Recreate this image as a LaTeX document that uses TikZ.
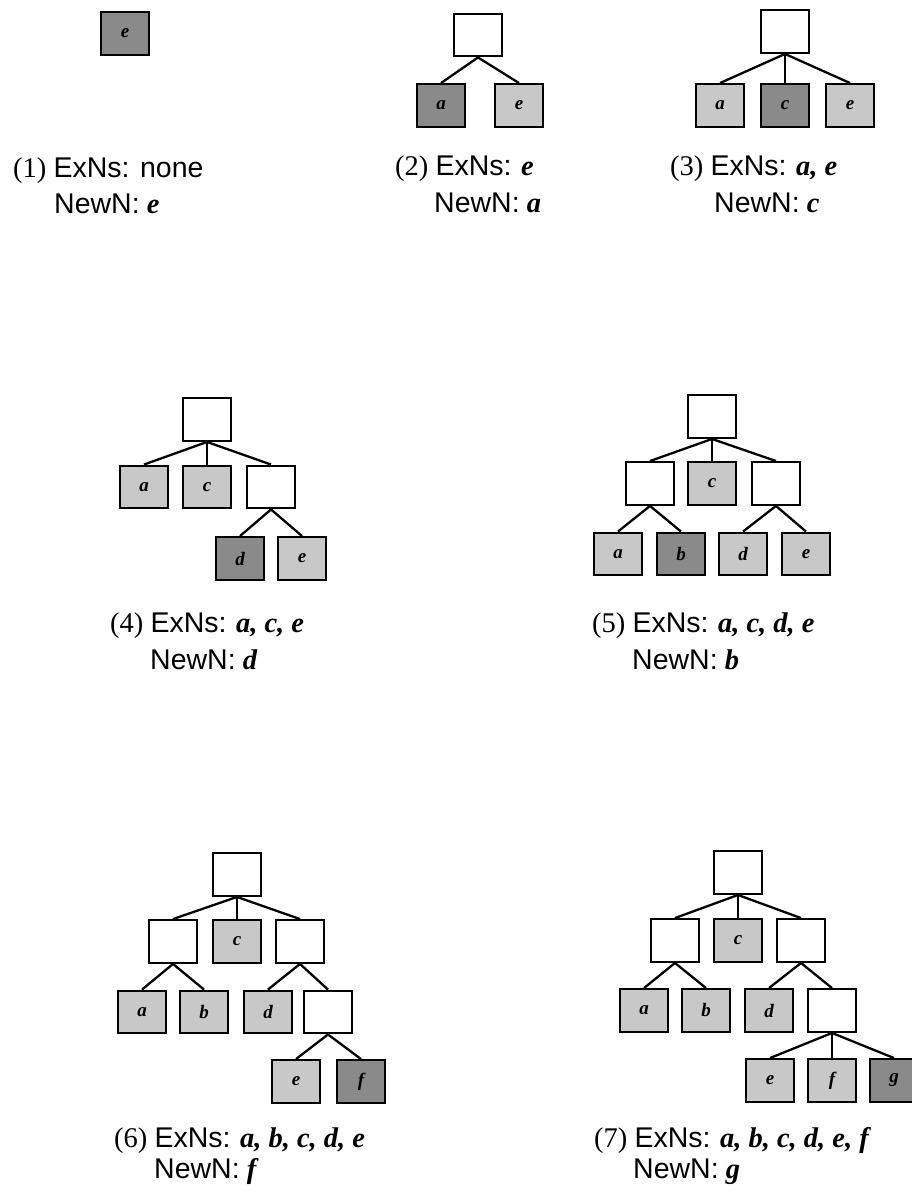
\documentclass[tikz,border=0pt]{standalone}
\usepackage{fontspec}
\setmainfont{Liberation Serif}
\newfontfamily\labelsans{Liberation Sans}
\newcommand{\nv}[1]{\textbf{\textit{#1}}}
\definecolor{oldgray}{RGB}{200,200,200}
\definecolor{newgray}{RGB}{138,138,138}
\begin{document}
\begin{tikzpicture}[x=1pt,y=-1pt,
  tbox/.style={draw, line width=2.4pt, minimum width=47.5pt, minimum height=42.5pt,
    inner sep=0pt, font=\fontsize{19}{19}\selectfont\bfseries\itshape},
  tplain/.style={tbox, fill=white},
  told/.style={tbox, fill=oldgray},
  tnew/.style={tbox, fill=newgray},
  link/.style={line width=2.3pt},
  steptext/.style={anchor=base west, inner sep=0pt, font=\fontsize{28.5}{28.5}\selectfont},
]
\clip (0,0) rectangle (912,1194);

% ---------- (1) ----------
\node[tnew] (p1e) at (125,33.5) {e};
\node[steptext] (c1a) at (13,177) {(1) {\labelsans ExNs: none}};
\node[steptext] (c1b) at (54,213) {{\labelsans NewN:} \nv{e}};

% ---------- (2) ----------
\node[tplain] (p2r) at (478,35) {};
\node[tnew] (p2a) at (441,105.5) {a};
\node[told] (p2e) at (519,105.5) {e};
\draw[link] (p2r.south) -- (p2a.north);
\draw[link] (p2r.south) -- (p2e.north);
\node[steptext] (c2a) at (395,175) {(2) {\labelsans ExNs:} \nv{e}};
\node[steptext] (c2b) at (434,212) {{\labelsans NewN:} \nv{a}};

% ---------- (3) ----------
\node[tplain] (p3r) at (785,31.5) {};
\node[told] (p3a) at (720,105.5) {a};
\node[tnew] (p3c) at (785,105.5) {c};
\node[told] (p3e) at (850,105.5) {e};
\foreach \k in {a,c,e} \draw[link] (p3r.south) -- (p3\k.north);
\node[steptext] (c3a) at (670,175) {(3) {\labelsans ExNs:} \nv{a, e}};
\node[steptext] (c3b) at (714,212) {{\labelsans NewN:} \nv{c}};

% ---------- (4) ----------
\node[tplain] (p4r) at (207,419.5) {};
\node[told] (p4a) at (144,487) {a};
\node[told] (p4c) at (207,487) {c};
\node[tplain] (p4i) at (271,487) {};
\node[tnew] (p4d) at (240,558.5) {d};
\node[told] (p4e) at (302,558.5) {e};
\foreach \k in {a,c,i} \draw[link] (p4r.south) -- (p4\k.north);
\foreach \k in {d,e} \draw[link] (p4i.south) -- (p4\k.north);
\node[steptext] (c4a) at (110,632) {(4) {\labelsans ExNs:} \nv{a, c, e}};
\node[steptext] (c4b) at (150,669) {{\labelsans NewN:} \nv{d}};

% ---------- (5) ----------
\node[tplain] (p5r) at (712,416.5) {};
\node[tplain] (p5l) at (650,483.5) {};
\node[told] (p5c) at (712,483.5) {c};
\node[tplain] (p5m) at (776,483.5) {};
\node[told] (p5a) at (618,554) {a};
\node[tnew] (p5b) at (681,554) {b};
\node[told] (p5d) at (743,554) {d};
\node[told] (p5e) at (806,554) {e};
\foreach \k in {l,c,m} \draw[link] (p5r.south) -- (p5\k.north);
\foreach \k in {a,b} \draw[link] (p5l.south) -- (p5\k.north);
\foreach \k in {d,e} \draw[link] (p5m.south) -- (p5\k.north);
\node[steptext] (c5a) at (592,632) {(5) {\labelsans ExNs:} \nv{a, c, d, e}};
\node[steptext] (c5b) at (632,669) {{\labelsans NewN:} \nv{b}};

% ---------- (6) ----------
\node[tplain] (p6r) at (237,874.5) {};
\node[tplain] (p6l) at (173,941.5) {};
\node[told] (p6c) at (237,941.5) {c};
\node[tplain] (p6m) at (300,941.5) {};
\node[told] (p6a) at (142,1012) {a};
\node[told] (p6b) at (204,1012) {b};
\node[told] (p6d) at (268,1012) {d};
\node[tplain] (p6i) at (328,1012) {};
\node[told] (p6e) at (296,1081.5) {e};
\node[tnew] (p6f) at (361,1081.5) {f};
\foreach \k in {l,c,m} \draw[link] (p6r.south) -- (p6\k.north);
\foreach \k in {a,b} \draw[link] (p6l.south) -- (p6\k.north);
\foreach \k in {d,i} \draw[link] (p6m.south) -- (p6\k.north);
\foreach \k in {e,f} \draw[link] (p6i.south) -- (p6\k.north);
\node[steptext] (c6a) at (114,1147) {(6) {\labelsans ExNs:} \nv{a, b, c, d, e}};
\node[steptext] (c6b) at (154,1178) {{\labelsans NewN:} \nv{f}};

% ---------- (7) ----------
\node[tplain] (p7r) at (738,872.5) {};
\node[tplain] (p7l) at (675,940.5) {};
\node[told] (p7c) at (738,940.5) {c};
\node[tplain] (p7m) at (801,940.5) {};
\node[told] (p7a) at (644,1010.5) {a};
\node[told] (p7b) at (706,1010.5) {b};
\node[told] (p7d) at (769,1010.5) {d};
\node[tplain] (p7i) at (832,1010.5) {};
\node[told] (p7e) at (770,1080.5) {e};
\node[told] (p7f) at (832,1080.5) {f};
\node[tnew] (p7g) at (894,1080.5) {g};
\foreach \k in {l,c,m} \draw[link] (p7r.south) -- (p7\k.north);
\foreach \k in {a,b} \draw[link] (p7l.south) -- (p7\k.north);
\foreach \k in {d,i} \draw[link] (p7m.south) -- (p7\k.north);
\foreach \k in {e,f,g} \draw[link] (p7i.south) -- (p7\k.north);
\node[steptext] (c7a) at (594,1147) {(7) {\labelsans ExNs:} \nv{a, b, c, d, e, f}};
\node[steptext] (c7b) at (633,1178) {{\labelsans NewN:} \nv{g}};
\end{tikzpicture}
\end{document}
